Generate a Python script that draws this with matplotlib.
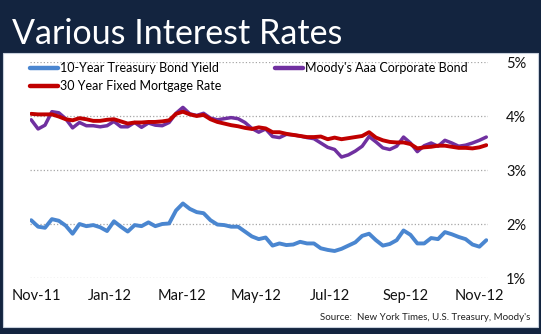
import matplotlib
matplotlib.use("Agg")
import matplotlib.pyplot as plt
import matplotlib.patches as mpatches
import pandas as pd

# roughly every 5-6 days, late Oct 2011 to early Nov 2012
dates = pd.date_range("2011-10-28", "2012-11-07", periods=67)

treasury = [2.07, 1.95, 1.93, 2.09, 2.06, 1.97, 1.82, 2.00, 1.96, 1.98,
            1.94, 1.87, 2.05, 1.95, 1.86, 1.98, 1.96, 2.03, 1.96, 2.00,
            2.01, 2.25, 2.38, 2.28, 2.22, 2.20, 2.07, 1.99, 1.98, 1.95,
            1.95, 1.86, 1.77, 1.72, 1.75, 1.60, 1.64, 1.61, 1.62, 1.67,
            1.64, 1.64, 1.55, 1.52, 1.50, 1.54, 1.60, 1.66, 1.78, 1.82,
            1.70, 1.60, 1.63, 1.70, 1.88, 1.80, 1.64, 1.64, 1.74, 1.72,
            1.85, 1.81, 1.76, 1.72, 1.62, 1.58, 1.70]

moodys = [3.93, 3.76, 3.83, 4.08, 4.06, 3.95, 3.78, 3.88, 3.82, 3.82,
          3.80, 3.82, 3.90, 3.80, 3.80, 3.88, 3.79, 3.87, 3.83, 3.82,
          3.88, 4.05, 4.16, 4.04, 4.01, 4.05, 3.96, 3.93, 3.95, 3.97,
          3.95, 3.88, 3.77, 3.70, 3.76, 3.62, 3.60, 3.66, 3.65, 3.63,
          3.60, 3.58, 3.50, 3.42, 3.38, 3.24, 3.28, 3.35, 3.44, 3.62,
          3.52, 3.41, 3.38, 3.44, 3.61, 3.50, 3.34, 3.45, 3.50, 3.44,
          3.55, 3.50, 3.44, 3.46, 3.50, 3.55, 3.61]

mortgage = [4.04, 4.03, 4.03, 4.03, 3.99, 3.94, 3.92, 3.96, 3.94, 3.91,
            3.91, 3.93, 3.94, 3.90, 3.86, 3.88, 3.88, 3.89, 3.89, 3.90,
            3.92, 4.04, 4.08, 4.03, 4.00, 4.02, 3.94, 3.89, 3.86, 3.83,
            3.81, 3.78, 3.76, 3.79, 3.77, 3.70, 3.70, 3.67, 3.65, 3.63,
            3.61, 3.61, 3.62, 3.57, 3.60, 3.57, 3.59, 3.61, 3.63, 3.70,
            3.60, 3.55, 3.52, 3.51, 3.51, 3.48, 3.40, 3.42, 3.43, 3.45,
            3.45, 3.43, 3.41, 3.41, 3.40, 3.42, 3.46]

month_ticks = ["2011-11-01", "2012-01-01", "2012-03-01", "2012-05-01",
               "2012-07-01", "2012-09-01", "2012-11-01"]
month_labels = ["Nov-11", "Jan-12", "Mar-12", "May-12", "Jul-12", "Sep-12", "Nov-12"]
pct_ticks = [1, 2, 3, 4, 5]

navy = "#13243F"
c_blue = "#4A86D0"
c_purple = "#7030A0"
c_red = "#C00000"

plt.rcParams["font.family"] = ["Lato", "DejaVu Sans"]

fig = plt.figure(figsize=(5.41, 3.34), dpi=100)
fig.patch.set_facecolor(navy)

# white panel
panel = mpatches.Rectangle((3 / 541, 1 - 327 / 334), 535 / 541, 274 / 334,
                           transform=fig.transFigure, facecolor="white",
                           edgecolor="#C8D0DC", linewidth=0.8, zorder=0)
fig.patches.append(panel)

fig.text(12 / 541, 1 - 44 / 334, "Various Interest Rates", color="white",
         fontsize=24.5, ha="left", va="baseline")

ax = fig.add_axes([30 / 541, 1 - 278 / 334, 458 / 541, 216 / 334])
ax.set_zorder(2)
ax.set_facecolor("none")

l1, = ax.plot(dates, treasury, color=c_blue, lw=2.8, solid_capstyle="round",
              label="10-Year Treasury Bond Yield", zorder=3)
l2, = ax.plot(dates, moodys, color=c_purple, lw=2.5, solid_capstyle="round",
              label="Moody's Aaa Corporate Bond", zorder=3)
l3, = ax.plot(dates, mortgage, color=c_red, lw=2.8, solid_capstyle="round",
              label="30 Year Fixed Mortgage Rate", zorder=4)

ax.set_ylim(1, 5)
ax.set_xlim(pd.Timestamp("2011-10-27"), pd.Timestamp("2012-11-08 10:00"))
ax.set_yticks(pct_ticks)
ax.set_yticklabels([f"{p}%" for p in pct_ticks])
ax.yaxis.tick_right()
ax.tick_params(axis="y", length=0, pad=13, labelsize=10.5, colors="#111111")
ax.set_xticks([pd.Timestamp(d) for d in month_ticks])
ax.set_xticklabels(month_labels)
ax.tick_params(axis="x", length=0, pad=8, labelsize=10.5, colors="#111111")

ax.grid(axis="y", color="#A6A6A6", linestyle=":", linewidth=0.9)
ax.grid(axis="x", visible=False)
for s in ax.spines.values():
    s.set_visible(False)

leg = ax.legend(handles=[l1, l3, l2], ncol=2, loc="upper left",
                bbox_to_anchor=(0.0, 1.0), frameon=False, fontsize=9,
                handlelength=2.25, handletextpad=0.15, columnspacing=4.3,
                labelspacing=0.5, borderaxespad=0, borderpad=0)
for h in leg.legend_handles:
    h.set_linewidth(3.2)

fig.text(530 / 541, 1 - 318 / 334, "Source:  New York Times, U.S. Treasury, Moody's",
         fontsize=7, ha="right", va="center", color="#222222")

fig.savefig("out.png", dpi=100, facecolor=navy)
